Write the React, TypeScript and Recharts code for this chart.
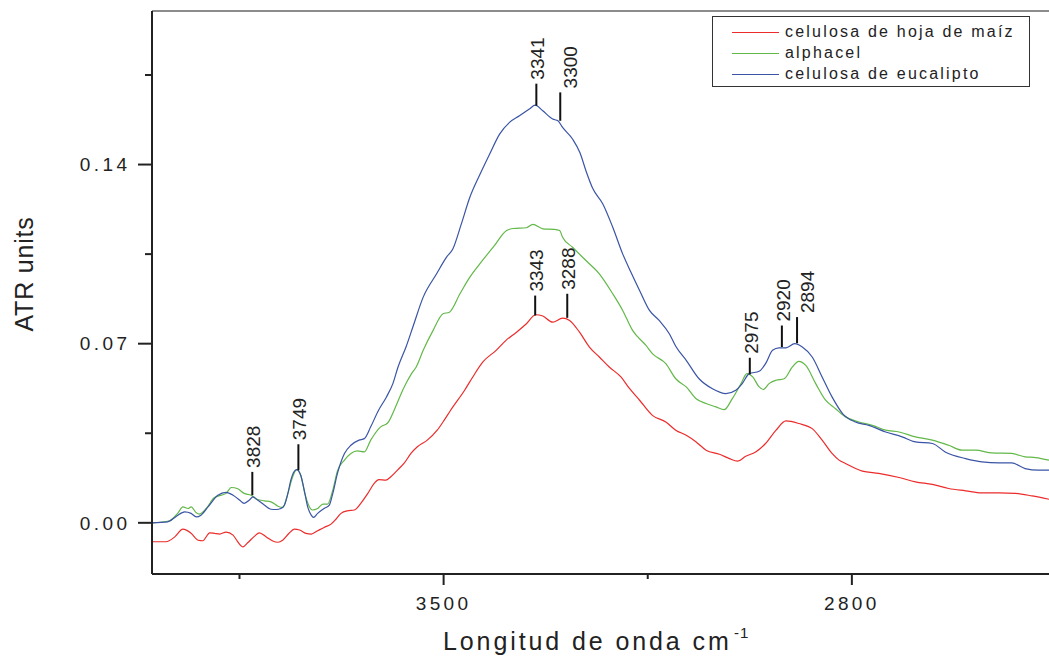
import React from "react";
import { LineChart, Line, XAxis, YAxis, ReferenceLine, Legend } from "recharts";

const FONT = "'Liberation Sans', Arial, Helvetica, sans-serif";
const INK = "#222";

const seriesNames = ["celulosa de hoja de maíz", "alphacel", "celulosa de eucalipto"];
const seriesColors = ["#ec2b2b", "#62b848", "#3a54a6"];

// celulosa de hoja de maíz
const waveMaiz = [
  4000, 3976, 3961, 3947, 3933, 3921, 3913, 3901, 3893, 3884, 3873, 3861, 3853, 3844, 3836, 3824,
  3816, 3804, 3793, 3784, 3776, 3765, 3756, 3747, 3736, 3727, 3716, 3705, 3693, 3685, 3676, 3665,
  3653, 3642, 3630, 3619, 3611, 3599, 3591, 3579, 3568, 3556, 3545, 3528, 3511, 3499, 3488, 3464,
  3450, 3433, 3410, 3393, 3375, 3358, 3342, 3330, 3313, 3296, 3284, 3267, 3250, 3233, 3216, 3196,
  3181, 3164, 3142, 3119, 3102, 3084, 3067, 3050, 3027, 3010, 2996, 2982, 2965, 2948, 2930, 2913,
  2891, 2868, 2851, 2834, 2822, 2811, 2782, 2754, 2719, 2691, 2662, 2634, 2605, 2577, 2548, 2520,
  2491, 2462,
];
const atrMaiz = [
  -0.0074, -0.0074, -0.0055, -0.0025, -0.0041, -0.0068, -0.007, -0.0039, -0.0041, -0.0044, -0.0036,
  -0.0048, -0.0074, -0.0094, -0.0078, -0.0052, -0.0039, -0.0055, -0.0071, -0.0076, -0.0068, -0.0041,
  -0.0025, -0.0028, -0.0041, -0.0044, -0.0031, -0.0018, -0.0005, 0.0013, 0.0037, 0.0047, 0.005,
  0.0076, 0.0115, 0.0154, 0.0169, 0.0167, 0.0179, 0.0206, 0.0232, 0.0271, 0.0297, 0.0323, 0.0362,
  0.0401, 0.044, 0.0518, 0.057, 0.0628, 0.0674, 0.0713, 0.0745, 0.0778, 0.0813, 0.0808, 0.0784,
  0.08, 0.0791, 0.0745, 0.0687, 0.0648, 0.0609, 0.057, 0.0524, 0.0479, 0.042, 0.0394, 0.0362, 0.0342,
  0.0316, 0.0284, 0.0268, 0.0251, 0.0241, 0.026, 0.0277, 0.031, 0.0362, 0.0398, 0.0388, 0.0368,
  0.0323, 0.0271, 0.0245, 0.0232, 0.0202, 0.0193, 0.0177, 0.016, 0.015, 0.0134, 0.0125, 0.0117,
  0.0117, 0.0115, 0.0105, 0.0092,
];

// alphacel
const waveAlphacel = [
  4000, 3970, 3956, 3947, 3938, 3933, 3924, 3919, 3907, 3893, 3881, 3873, 3864, 3853, 3842, 3830,
  3819, 3807, 3796, 3784, 3776, 3767, 3759, 3752, 3745, 3738, 3730, 3725, 3716, 3707, 3699, 3690,
  3682, 3670, 3659, 3648, 3636, 3625, 3608, 3596, 3583, 3569, 3555, 3547, 3535, 3518, 3501, 3490,
  3472, 3455, 3438, 3415, 3392, 3381, 3358, 3347, 3330, 3310, 3301, 3296, 3279, 3256, 3233, 3210,
  3193, 3176, 3153, 3142, 3119, 3102, 3084, 3067, 3050, 3033, 3019, 3005, 2990, 2980, 2970, 2959,
  2952, 2942, 2930, 2916, 2902, 2891, 2879, 2862, 2845, 2828, 2811, 2788, 2765, 2742, 2719, 2691,
  2662, 2634, 2611, 2588, 2560, 2526, 2503, 2485, 2462,
];
const atrAlphacel = [
  0, 0.0008, 0.0037, 0.0062, 0.0056, 0.0062, 0.0039, 0.0034, 0.0056, 0.0099, 0.0108, 0.0115, 0.0138,
  0.0133, 0.0115, 0.0108, 0.0091, 0.0086, 0.0082, 0.0065, 0.006, 0.0115, 0.0179, 0.0208, 0.0186,
  0.0115, 0.0062, 0.005, 0.0056, 0.0073, 0.0073, 0.0128, 0.0203, 0.0245, 0.0271, 0.0281, 0.0277,
  0.0323, 0.0375, 0.039, 0.045, 0.0524, 0.0583, 0.0609, 0.0674, 0.0752, 0.0817, 0.0823, 0.0895,
  0.096, 0.1012, 0.1077, 0.1142, 0.115, 0.1153, 0.1166, 0.1149, 0.1147, 0.1142, 0.1116, 0.1077,
  0.1025, 0.0973, 0.0895, 0.083, 0.0752, 0.0693, 0.0661, 0.0622, 0.0563, 0.0531, 0.0485, 0.0466,
  0.0453, 0.0442, 0.0485, 0.0544, 0.0583, 0.057, 0.0531, 0.0521, 0.0544, 0.0557, 0.0563, 0.0609,
  0.0631, 0.0615, 0.0544, 0.0479, 0.0446, 0.0414, 0.0394, 0.0381, 0.0362, 0.0355, 0.0336, 0.0323,
  0.0303, 0.0284, 0.0284, 0.0273, 0.0271, 0.0258, 0.0255, 0.0245,
];

// celulosa de eucalipto
const waveEucalipto = [
  4000, 3973, 3958, 3944, 3933, 3924, 3916, 3904, 3887, 3873, 3861, 3850, 3842, 3833, 3827, 3819,
  3807, 3796, 3787, 3779, 3773, 3767, 3762, 3752, 3745, 3739, 3733, 3727, 3723, 3716, 3705, 3696,
  3690, 3682, 3670, 3659, 3645, 3636, 3625, 3612, 3598, 3587, 3578, 3564, 3552, 3535, 3512, 3495,
  3484, 3470, 3455, 3438, 3421, 3404, 3387, 3370, 3353, 3343, 3330, 3313, 3304, 3296, 3279, 3266,
  3256, 3244, 3227, 3210, 3193, 3179, 3164, 3147, 3130, 3113, 3102, 3084, 3062, 3039, 3016, 2999,
  2988, 2976, 2959, 2948, 2936, 2925, 2913, 2898, 2885, 2868, 2851, 2834, 2816, 2794, 2771, 2742,
  2714, 2691, 2662, 2640, 2605, 2577, 2548, 2526, 2503, 2480, 2462,
];
const atrEucalipto = [
  0, 0.0004, 0.0026, 0.0043, 0.0037, 0.0023, 0.003, 0.0062, 0.0108, 0.0119, 0.0108, 0.0089, 0.0076,
  0.0089, 0.0101, 0.0089, 0.0069, 0.0053, 0.0052, 0.0056, 0.0069, 0.0115, 0.0167, 0.0208, 0.0186,
  0.0128, 0.0062, 0.003, 0.0021, 0.0037, 0.0056, 0.0069, 0.0115, 0.0193, 0.0271, 0.0303, 0.0323,
  0.0329, 0.0375, 0.0438, 0.0492, 0.0544, 0.061, 0.069, 0.077, 0.0882, 0.0973, 0.1038, 0.1071,
  0.1165, 0.1272, 0.136, 0.1441, 0.1519, 0.1565, 0.1591, 0.1617, 0.1632, 0.161, 0.1578, 0.1571,
  0.1545, 0.15, 0.1445, 0.1376, 0.1305, 0.1246, 0.1155, 0.1051, 0.098, 0.0908, 0.083, 0.079, 0.0739,
  0.069, 0.0635, 0.0563, 0.0524, 0.0505, 0.0518, 0.0544, 0.0583, 0.0592, 0.0622, 0.0674, 0.0684,
  0.0684, 0.07, 0.0687, 0.0648, 0.057, 0.0492, 0.0427, 0.0394, 0.0381, 0.0355, 0.0336, 0.0316,
  0.031, 0.0277, 0.0251, 0.0238, 0.0234, 0.0234, 0.0212, 0.0206, 0.0206,
];

const xTicks = [3850, 3500, 3150, 2800];
const xTickLabels = [3500, 2800];
const yTicks = [0, 0.035, 0.07, 0.105, 0.14, 0.175];
const yTickLabels = [0, 0.07, 0.14];

// marked bands: wavenumber, top and bottom of the marker stroke (ATR units)
const peakWave = [3828, 3749, 3341, 3300, 3343, 3288, 2975, 2920, 2894];
const peakTop = [0.0199, 0.0307, 0.1716, 0.1682, 0.0888, 0.0895, 0.0645, 0.0771, 0.0804];
const peakBottom = [0.0108, 0.0206, 0.163, 0.1571, 0.081, 0.0801, 0.058, 0.0687, 0.0702];
const labelNudge: Record<number, number> = { 3300: 9, 2894: 9 };

const toPoints = (w: number[], a: number[]) => w.map((x, i) => ({ x, y: a[i] }));
const series = [
  toPoints(waveMaiz, atrMaiz),
  toPoints(waveAlphacel, atrAlphacel),
  toPoints(waveEucalipto, atrEucalipto),
];

const XTick = (props: any) => {
  const { x, y, payload } = props;
  const axisY = y - 11;
  const major = xTickLabels.includes(payload.value);
  return (
    <g>
      <line x1={x} x2={x} y1={axisY} y2={axisY + (major ? 11 : 5)} stroke={INK} strokeWidth={2} />
      {major && (
        <text
          x={x}
          y={axisY + 35.5}
          textAnchor="middle"
          fontFamily={FONT}
          fontSize={19}
          letterSpacing={3.4}
          fill={INK}>
          {payload.value}
        </text>
      )}
    </g>
  );
};

const YTick = (props: any) => {
  const { x, y, payload } = props;
  const axisX = x + 14;
  const major = yTickLabels.includes(payload.value);
  return (
    <g>
      <line x1={axisX - (major ? 14 : 7)} x2={axisX} y1={y} y2={y} stroke={INK} strokeWidth={2} />
      {major && (
        <text
          x={axisX - 21.6}
          y={y + 6.8}
          textAnchor="end"
          fontFamily={FONT}
          fontSize={19}
          letterSpacing={3.4}
          fill={INK}>
          {payload.value.toFixed(2)}
        </text>
      )}
    </g>
  );
};

const XTitle = () => (
  <g fill={INK} fontFamily={FONT}>
    <text x={443} y={650} fontSize={25} letterSpacing={2.9}>
      Longitud de onda cm
    </text>
    <text x={734} y={638} fontSize={15} letterSpacing={1}>
      -1
    </text>
  </g>
);

const YTitle = () => (
  <text
    x={33}
    y={274}
    transform="rotate(-90 33 274)"
    textAnchor="middle"
    fontFamily={FONT}
    fontSize={25}
    letterSpacing={0.8}
    fill={INK}>
    ATR units
  </text>
);

const peakLabel = (value: number) => (props: any) => {
  const vb = props.viewBox;
  const bx = vb.x + 7.8 + (labelNudge[value] || 0);
  const by = vb.y - 4;
  return (
    <text
      x={bx}
      y={by}
      transform={`rotate(-90 ${bx} ${by})`}
      textAnchor="start"
      fontFamily={FONT}
      fontSize={19}
      fill={INK}>
      {value}
    </text>
  );
};

const LegendBox = () => (
  <div
    style={{
      position: "relative",
      width: 316,
      height: 69,
      border: "1px solid #333",
      background: "#fff",
      fontFamily: FONT,
      fontSize: 16,
      letterSpacing: 2.2,
      color: INK,
    }}>
    {seriesNames.map((name, i) => (
      <div
        key={name}
        style={{
          position: "absolute",
          left: 0,
          top: 4.7 + i * 21.2,
          height: 20,
          lineHeight: "20px",
          whiteSpace: "nowrap",
        }}>
        <div
          style={{
            position: "absolute",
            left: 19,
            top: 10,
            width: 47,
            borderTop: `1.3px solid ${seriesColors[i]}`,
          }}
        />
        <span style={{ position: "absolute", left: 72, top: 0 }}>{name}</span>
      </div>
    ))}
  </div>
);

export default function App() {
  return (
    <div style={{ position: "absolute", left: 0, top: 0, background: "#fff" }}>
      <LineChart width={1049} height={662} margin={{ top: 11, right: 0, bottom: 0, left: 0 }}>
        <XAxis
          type="number"
          dataKey="x"
          domain={[2462, 4000]}
          reversed
          allowDataOverflow
          ticks={xTicks}
          interval={0}
          tick={<XTick />}
          tickLine={false}
          tickSize={11}
          tickMargin={0}
          height={88}
          axisLine={{ stroke: INK, strokeWidth: 2 }}
          label={XTitle}
        />
        <YAxis
          type="number"
          domain={[-0.02, 0.2]}
          allowDataOverflow
          ticks={yTicks}
          interval={0}
          tick={<YTick />}
          tickLine={false}
          tickSize={14}
          tickMargin={0}
          width={152}
          axisLine={{ stroke: INK, strokeWidth: 2 }}
          label={YTitle}
        />
        <ReferenceLine y={0.2} stroke="#8c8c8c" strokeWidth={2} />
        {series.map((data, i) => (
          <Line
            key={seriesNames[i]}
            data={data}
            dataKey="y"
            name={seriesNames[i]}
            type="monotone"
            stroke={seriesColors[i]}
            strokeWidth={1.2}
            dot={false}
            activeDot={false}
            isAnimationActive={false}
          />
        ))}
        {peakWave.map((w, i) => (
          <ReferenceLine
            key={`peak-${w}`}
            segment={[
              { x: w, y: peakBottom[i] },
              { x: w, y: peakTop[i] },
            ]}
            stroke="#111"
            strokeWidth={2}
            ifOverflow="visible"
            label={peakLabel(w)}
          />
        ))}
        <Legend
          layout="horizontal"
          verticalAlign="middle"
          align="center"
          wrapperStyle={{ left: 712, top: 16, width: 318, height: 71 }}
          content={LegendBox}
        />
      </LineChart>
    </div>
  );
}
